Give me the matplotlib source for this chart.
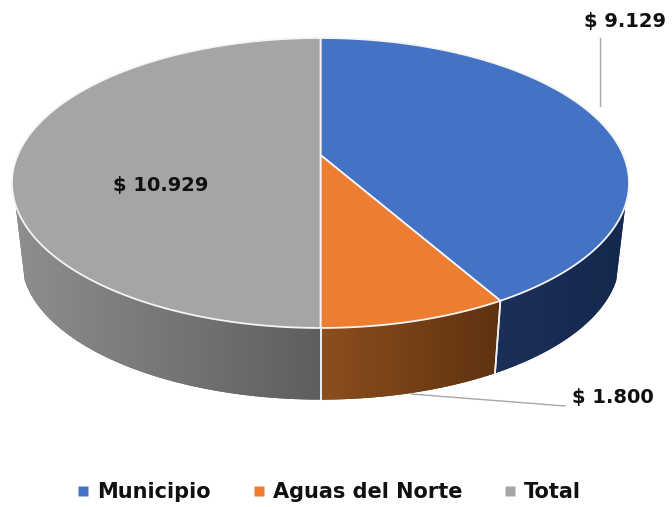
import numpy as np
import matplotlib
matplotlib.use("Agg")
import matplotlib.pyplot as plt
from matplotlib.colors import LinearSegmentedColormap
from matplotlib.lines import Line2D

categories = ["Municipio", "Aguas del Norte", "Total"]
values = [9129, 1800, 10929]
value_labels = ["$ 9.129", "$ 1.800", "$ 10.929"]
top_colors = ["#4472C4", "#ED7D31", "#A5A5A5"]
wall_left = ["#1B2F59", "#8C4E1E", "#8E8E8E"]
wall_right = ["#15294E", "#5E3210", "#5E5E5E"]

W, H = 672, 507
FONT = "DejaVu Sans"

fig = plt.figure(figsize=(W / 100, H / 100), dpi=100)
ax = fig.add_axes([0, 0, 1, 1])
ax.set_xlim(0, W)
ax.set_ylim(H, 0)
ax.axis("off")

CX, AY = 320.5, 155.0
A, D, E = 302.7, -109.66, 0.193
ELL_Y, SHRINK, LOW_Y = 183.0, 0.97, 259.0


def top_xy(theta):
    X, Y = np.sin(theta), np.cos(theta)
    w = 1 + E * Y
    return CX + A * X / w, (AY + D * Y) / w


def low_xy(theta):
    x, y = top_xy(theta)
    return CX + SHRINK * (x - CX), LOW_Y + SHRINK * (y - ELL_Y)


fractions = np.array(values, dtype=float) / sum(values)
edges = np.concatenate([[0], np.cumsum(fractions)]) * 2 * np.pi
WALL_LIMIT_R = np.deg2rad(109.6)
WALL_LIMIT_L = np.deg2rad(250.4)

# side walls
for i in range(len(values)):
    t0, t1 = edges[i], edges[i + 1]
    a0, a1 = max(t0, WALL_LIMIT_R), min(t1, WALL_LIMIT_L)
    if a1 <= a0:
        continue
    th = np.linspace(a0, a1, 200)
    ux, uy = top_xy(th)
    lx, ly = low_xy(th)
    px = np.concatenate([ux, lx[::-1]])
    py = np.concatenate([uy, ly[::-1]])
    poly = ax.fill(px, py, color=wall_right[i], lw=0, zorder=1)[0]
    cm = LinearSegmentedColormap.from_list("w", [wall_left[i], wall_right[i]])
    im = ax.imshow(np.linspace(0, 1, 256)[None, :], cmap=cm, aspect="auto",
                   extent=[px.min(), px.max(), py.max(), py.min()], zorder=1.5)
    im.set_clip_path(poly)
    # white seam at the wedge boundaries
    for t in (a0, a1):
        if t in (t0, t1) and not np.isclose(t, edges[-1]):
            xa, ya = top_xy(t)
            xb, yb = low_xy(t)
            ax.plot([xa, xb], [ya, yb], color="#F2F2F2", lw=1.2, zorder=2)
ax.set_xlim(0, W)
ax.set_ylim(H, 0)

# top wedges
for i in range(len(values)):
    th = np.linspace(edges[i], edges[i + 1], 300)
    x, y = top_xy(th)
    ax.fill(np.r_[CX, x], np.r_[AY, y], facecolor=top_colors[i],
            edgecolor="#F4F4F4", lw=1.3, joinstyle="round", zorder=3)

# labels and leader lines
txt = dict(family=FONT, fontweight="bold", fontsize=14.0, color="#111111",
           va="center", ha="left", zorder=5)
ax.text(584, 22, value_labels[0], **txt)
ax.text(572, 397, value_labels[1], **txt)
ax.text(113, 186, value_labels[2], **txt)
ax.plot([599.5, 599.5], [38, 106], color="#A6A6A6", lw=1, zorder=2.5)
ax.plot([411, 565], [394, 406], color="#A6A6A6", lw=1, zorder=2.5)

# legend
handles = [Line2D([], [], ls="", marker="s", ms=7.5, mfc=c, mec="none") for c in top_colors]
ax.legend(handles, categories, loc="center", bbox_to_anchor=(326 / W, 1 - 492 / H),
          ncol=3, frameon=False, handletextpad=0.07, columnspacing=1.7,
          handlelength=1.2, borderpad=0,
          prop={"family": FONT, "weight": "bold", "size": 15},
          labelcolor="#111111")

fig.savefig("out.png", dpi=100, facecolor="white")
